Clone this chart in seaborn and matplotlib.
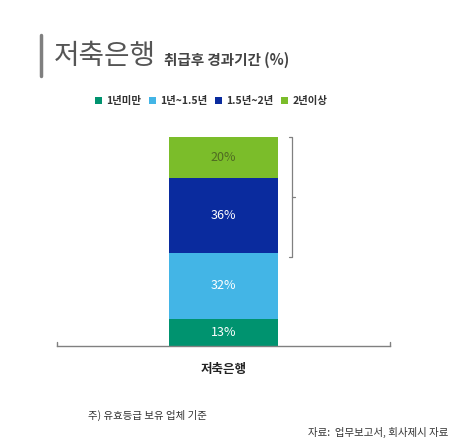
import matplotlib
matplotlib.use("Agg")
import matplotlib.pyplot as plt
import seaborn as sns
from matplotlib.patches import Patch

# data
bank = ["저축은행"]
legend_labels = ["1년미만", "1년~1.5년", "1.5년~2년", "2년이상"]
values = [13, 32, 36, 20]
colors = ["#00936F", "#43B5E6", "#0A2B9E", "#7BBD2A"]
text_colors = ["white", "white", "white", "#4F6B22"]

sns.set_style("white")
plt.rcParams["font.family"] = ["Noto Sans CJK KR", "DejaVu Sans"]

fig = plt.figure(figsize=(4.6, 4.43), dpi=100)
ax = fig.add_axes([57 / 460, 1 - 346 / 443, 333 / 460, 209 / 443])

# stacked bar, one segment at a time
bottom = 0
for val, col, tc in zip(values, colors, text_colors):
    sns.barplot(x=bank, y=[val], bottom=bottom, color=col, width=0.99,
                saturation=1, ax=ax, edgecolor="none", linewidth=0)
    ax.text(0, bottom + val / 2, f"{val}%", ha="center", va="center",
            fontsize=9, color=tc)
    bottom += val

ax.set_xlim(-1.5, 1.5)
ax.set_ylim(0, sum(values))
ax.set_ylabel("")
ax.set_yticks([])
for s in ["top", "left", "right"]:
    ax.spines[s].set_visible(False)
ax.spines["bottom"].set_color("#808080")
ax.spines["bottom"].set_linewidth(1.0)
ax.tick_params(axis="x", length=0, pad=12)
ax.set_xticks([0])
ax.set_xticklabels(bank, fontsize=9, fontweight="bold", color="#222222")

# small end ticks on the base line
for xa in [0, 1]:
    ax.plot([xa, xa], [0, 0.02], transform=ax.transAxes, color="#808080",
            lw=1.0, clip_on=False)

# bracket around the upper two segments
bx = 0.617
lo = values[0] + values[1]
hi = sum(values)
ax.plot([bx - 0.025, bx, bx, bx - 0.025], [lo - 2, lo - 2, hi, hi],
        color="#808080", lw=0.9, clip_on=False)
mid = (lo - 2 + hi) / 2
ax.plot([bx, bx + 0.03], [mid, mid], color="#808080", lw=0.9, clip_on=False)

# title block
fig.add_artist(plt.Line2D([41 / 460, 41 / 460], [1 - 35 / 443, 1 - 76 / 443],
                          color="#7F7F7F", lw=2.5))
fig.text(54 / 460, 1 - 56 / 443, "저축은행", fontsize=20, color="#555555",
         va="center", ha="left")
fig.text(164 / 460, 1 - 60 / 443, "취급후 경과기간 (%)", fontsize=10.5,
         fontweight="bold", color="#444444", va="center", ha="left")

# legend
handles = [Patch(facecolor=c, edgecolor="none") for c in colors]
leg = fig.legend(handles, legend_labels, ncol=4, loc="center",
                 bbox_to_anchor=(211 / 460, 1 - 101 / 443), frameon=False,
                 handlelength=0.7, handleheight=0.7, handletextpad=0.4,
                 columnspacing=0.7, prop={"size": 7.5, "weight": "bold"})
for t in leg.get_texts():
    t.set_color("#333333")

# footnotes
fig.text(88 / 460, 1 - 415 / 443, "주) 유효등급 보유 업체 기준", fontsize=7.5,
         color="#333333", va="center", ha="left")
fig.text(448 / 460, 1 - 432 / 443, "자료:  업무보고서, 회사제시 자료", fontsize=7.5,
         color="#333333", va="center", ha="right")

fig.savefig("out.png", dpi=100)
